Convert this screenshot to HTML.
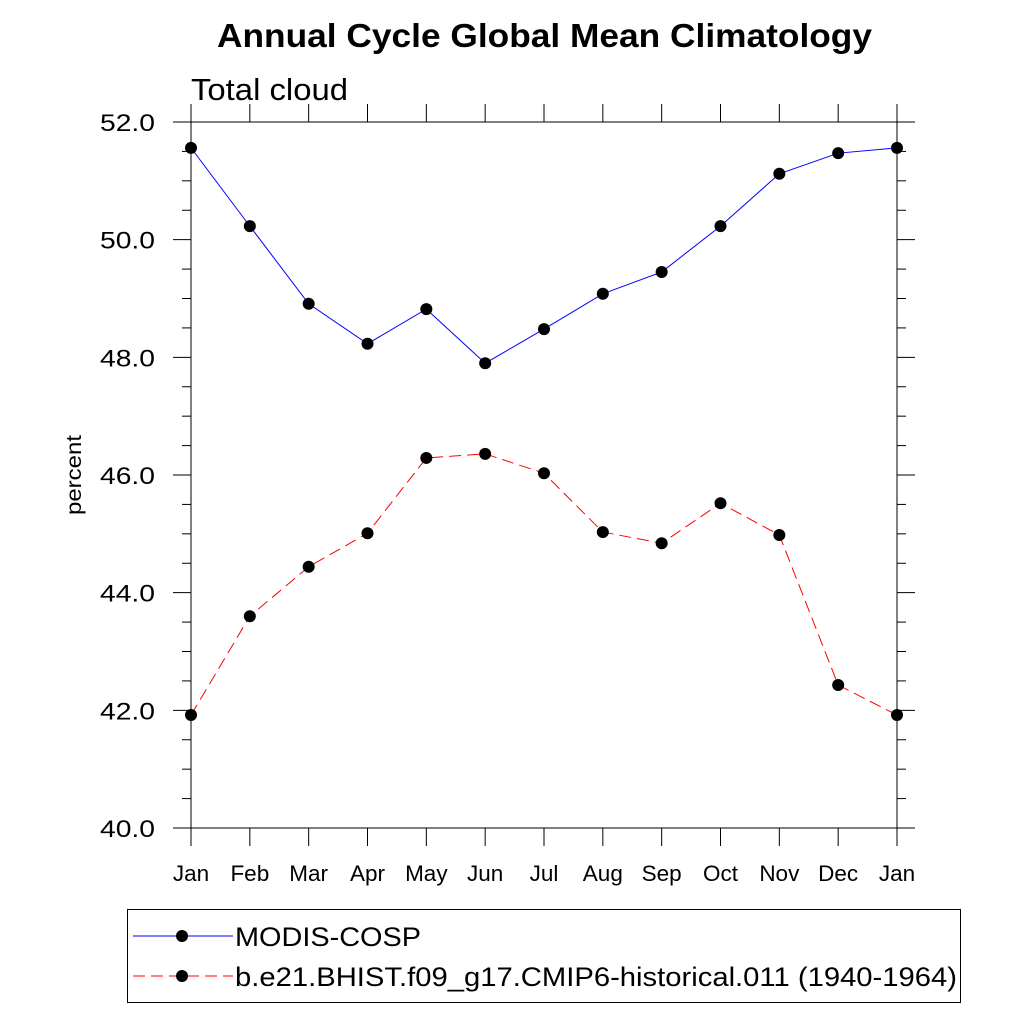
<!DOCTYPE html>
<html><head><meta charset="utf-8"><style>
body{margin:0;background:#fff}
svg{display:block;font-family:"Liberation Sans",sans-serif}
</style></head><body>
<svg width="1024" height="1024" viewBox="0 0 1024 1024">
<text x="217" y="47" font-size="33" font-weight="bold" textLength="655" lengthAdjust="spacingAndGlyphs">Annual Cycle Global Mean Climatology</text>
<text x="191" y="100" font-size="31" textLength="157" lengthAdjust="spacingAndGlyphs">Total cloud</text>
<text transform="translate(81,475) rotate(-90)" text-anchor="middle" font-size="21" textLength="80" lengthAdjust="spacingAndGlyphs">percent</text>
<g id="axes"></g>
<g id="series"></g>
<g>
<rect x="127.5" y="909.5" width="833" height="93" fill="none" stroke="#000" stroke-width="1"/>
<g>
<line x1="133" y1="936" x2="233" y2="936" stroke="#0000ff" stroke-width="1"/>
<circle cx="182" cy="936" r="6" fill="#000"/>
<text x="235" y="946" font-size="27" textLength="186" lengthAdjust="spacingAndGlyphs">MODIS-COSP</text></g>
<g>
<line x1="133" y1="976" x2="233" y2="976" stroke="#ff0000" stroke-width="1" stroke-dasharray="12,6"/>
<circle cx="182" cy="976" r="6" fill="#000"/>
<text x="235" y="986" font-size="27" textLength="722" lengthAdjust="spacingAndGlyphs">b.e21.BHIST.f09_g17.CMIP6-historical.011 (1940-1964)</text></g>
</g>
</svg>
<script>
const months=["Jan","Feb","Mar","Apr","May","Jun","Jul","Aug","Sep","Oct","Nov","Dec","Jan"];
const modis=[51.56,50.23,48.91,48.23,48.82,47.90,48.48,49.08,49.45,50.23,51.12,51.47,51.56];
const cesm=[41.92,43.60,44.44,45.01,46.29,46.36,46.03,45.03,44.84,45.52,44.98,42.43,41.92];
const yTicks=[40,42,44,46,48,50,52];
const NS="http://www.w3.org/2000/svg";
const X0=191,X1=897,Y0=828,Y1=122,YMIN=40,YMAX=52;
const xs=i=>X0+(X1-X0)*i/(months.length-1);
const ys=v=>Y0-(Y0-Y1)*(v-YMIN)/(YMAX-YMIN);
function mk(t,a,p){const e=document.createElementNS(NS,t);for(const k in a)e.setAttribute(k,a[k]);p.appendChild(e);return e;}
const ax=document.getElementById('axes');
const box=mk('rect',{x:X0,y:Y1,width:X1-X0,height:Y0-Y1,fill:'none',stroke:'#000','stroke-width':1},ax);


for(let v=YMIN;v<=YMAX+1e-9;v+=0.5){
  const y=ys(v),maj=Math.abs(v-Math.round(v/2)*2)<1e-9,L=maj?18:9;
  mk('line',{x1:X0-L,y1:y,x2:X0,y2:y,stroke:'#000','stroke-width':1},ax);
  mk('line',{x1:X1,y1:y,x2:X1+L,y2:y,stroke:'#000','stroke-width':1},ax);
}
yTicks.forEach(v=>{
  const t=mk('text',{x:155,y:ys(v)+9,'text-anchor':'end','font-size':24,textLength:55,lengthAdjust:'spacingAndGlyphs'},ax);
  t.textContent=v.toFixed(1);
  
  
});
months.forEach((m,i)=>{
  const x=xs(i);
  mk('line',{x1:x,y1:Y0,x2:x,y2:Y0+18,stroke:'#000','stroke-width':1},ax);
  mk('line',{x1:x,y1:Y1-18,x2:x,y2:Y1,stroke:'#000','stroke-width':1},ax);
  const t=mk('text',{x:x,y:881,'text-anchor':'middle','font-size':22.5},ax);
  t.textContent=m;
  
  
});
const sg=document.getElementById('series');
function series(vals,color,dash,name){
  const pts=vals.map((v,i)=>xs(i)+','+ys(v)).join(' ');
  const l=mk('polyline',{points:pts,fill:'none',stroke:color,'stroke-width':1,'stroke-dasharray':dash},sg);
  
  
  vals.forEach((v,i)=>{
    const c=mk('circle',{cx:xs(i),cy:ys(v),r:6,fill:'#000'},sg);
    
    
  });
}
series(modis,'#0000ff','none','modis');
series(cesm,'#ff0000','12,6','cesm');
</script>
</body></html>
